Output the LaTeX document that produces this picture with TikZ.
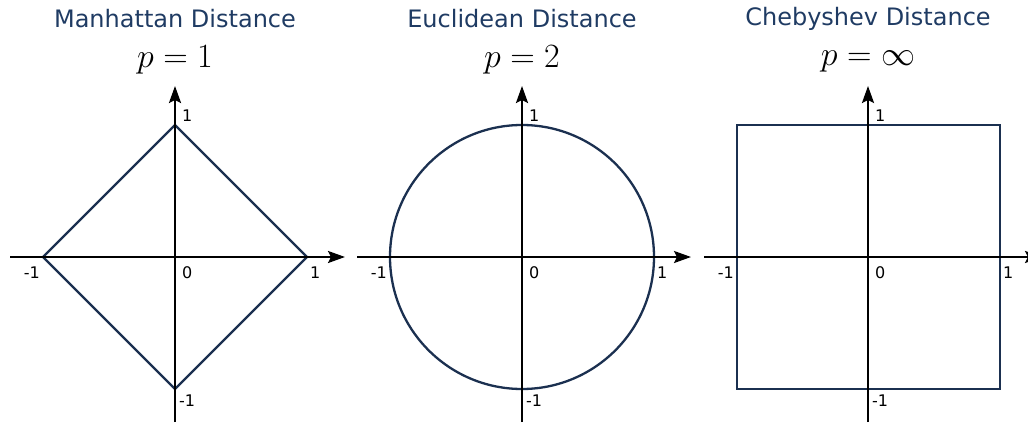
\RequirePackage{fix-cm}
\documentclass[tikz,border=0pt]{standalone}
\usepackage{fontspec}
\setmainfont{DejaVu Sans}
\usetikzlibrary{arrows.meta}
\definecolor{titleblue}{HTML}{1F3B63}
\definecolor{shapeblue}{HTML}{1B3050}
\tikzset{
  axis/.style={line width=2.3pt, -{Stealth[length=17pt,width=12pt,inset=3pt]}},
  shapeline/.style={draw=shapeblue, line width=2.3pt},
  ttl/.style={text=titleblue, font=\fontsize{24}{28}\selectfont, inner sep=0pt, anchor=base},
  eqn/.style={font=\fontsize{34}{38}\selectfont, inner sep=0pt, anchor=base},
  lbl/.style={font=\fontsize{16}{18}\selectfont, inner sep=0pt}
}
\begin{document}
\begin{tikzpicture}[x=1pt,y=-1pt]
\useasboundingbox (0,0) rectangle (1028,425);
% ---------- Panel 1 ----------
\node[ttl] (t1) at (175,28) {Manhattan Distance};
\node[eqn] (e1) at (175,68) {$p=1$};
\coordinate (a1l) at (10,257); \coordinate (a1r) at (345,257);
\coordinate (a1b) at (175,422); \coordinate (a1t) at (175,86);
\coordinate (d1t) at (175,125); \coordinate (d1r) at (307,257);
\coordinate (d1b) at (175,389); \coordinate (d1l) at (43,257);
\draw[shapeline] (d1t) -- (d1r) -- (d1b) -- (d1l) -- cycle;
\draw[axis] (a1l) -- (a1r);
\draw[axis] (a1b) -- (a1t);
\node[lbl, anchor=base west] (l1t) at (182,122) {1};
\node[lbl, anchor=base west] (l1o) at (182,278) {0};
\node[lbl, anchor=base east] (l1l) at (40,278) {-1};
\node[lbl, anchor=base west] (l1r) at (310,278) {1};
\node[lbl, anchor=base west] (l1b) at (179,406) {-1};
% ---------- Panel 2 ----------
\node[ttl] (t2) at (522,28) {Euclidean Distance};
\node[eqn] (e2) at (522,68) {$p=2$};
\coordinate (a2l) at (357,257); \coordinate (a2r) at (691,257);
\coordinate (a2b) at (522,422); \coordinate (a2t) at (522,86);
\coordinate (c2) at (522,257);
\draw[shapeline] (c2) circle[radius=132];
\draw[axis] (a2l) -- (a2r);
\draw[axis] (a2b) -- (a2t);
\node[lbl, anchor=base west] (l2t) at (529,122) {1};
\node[lbl, anchor=base west] (l2o) at (529,278) {0};
\node[lbl, anchor=base east] (l2l) at (387,278) {-1};
\node[lbl, anchor=base west] (l2r) at (657,278) {1};
\node[lbl, anchor=base west] (l2b) at (526,406) {-1};
% ---------- Panel 3 ----------
\node[ttl] (t3) at (868,26) {Chebyshev Distance};
\node[eqn] (e3) at (868,66) {$p=\infty$};
\coordinate (a3l) at (704,257); \coordinate (a3r) at (1042,257);
\coordinate (a3b) at (868,422); \coordinate (a3t) at (868,86);
\coordinate (s3a) at (737,125); \coordinate (s3b) at (1000,389);
\draw[shapeline] (s3a) rectangle (s3b);
\draw[axis] (a3l) -- (a3r);
\draw[axis] (a3b) -- (a3t);
\node[lbl, anchor=base west] (l3t) at (875,122) {1};
\node[lbl, anchor=base west] (l3o) at (875,278) {0};
\node[lbl, anchor=base east] (l3l) at (734,278) {-1};
\node[lbl, anchor=base west] (l3r) at (1003,278) {1};
\node[lbl, anchor=base west] (l3b) at (872,406) {-1};
\end{tikzpicture}
\end{document}
